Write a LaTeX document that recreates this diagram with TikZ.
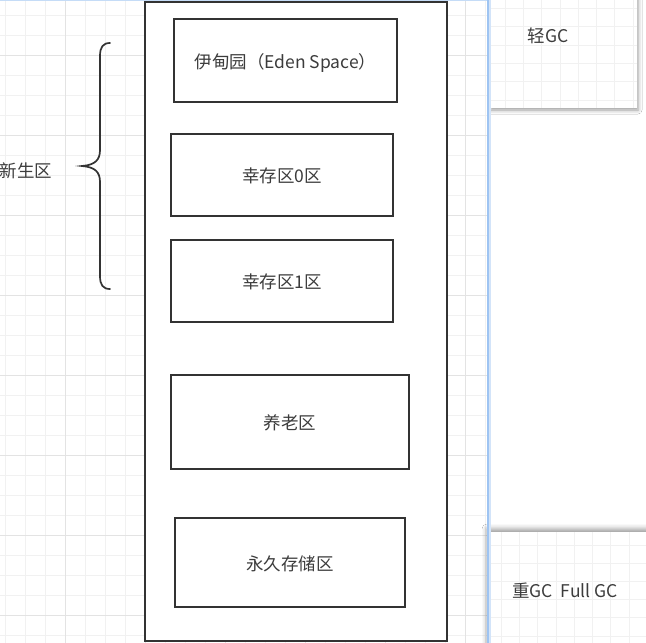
\documentclass[tikz,border=0pt]{standalone}
\usepackage{fontspec}
\setmainfont{Noto Sans CJK SC}
\usetikzlibrary{shadows.blur}
\definecolor{gridminor}{HTML}{F1F1F1}
\definecolor{gridmajor}{HTML}{E3E3E3}
\definecolor{ink}{HTML}{333333}
\definecolor{txt}{HTML}{3C3C3C}
\definecolor{edgeblue}{HTML}{9EC4F2}

\begin{document}
\begin{tikzpicture}[x=1pt, y=-1pt,
  region/.style={draw=ink, line width=2.2pt, fill=white, inner sep=0pt, text=txt,
                 text height=16pt, text depth=1pt,
                 font=\fontsize{17.5}{20}\selectfont},
  caption/.style={inner sep=0pt, text=txt, font=\fontsize{17.5}{20}\selectfont},
  minorline/.style={draw=gridminor, line width=0.8pt},
  majorline/.style={draw=gridmajor, line width=0.9pt},
  panel/.style={fill=white, draw=none}]

\useasboundingbox (0,0) rectangle (646,643);
\fill[white] (0,0) rectangle (646,643);

% canvas grid on the left part
\begin{scope}
  \clip (0,0) rectangle (487,643);
  \foreach \x in {5,25,...,485} \draw[minorline] (\x,0) -- (\x,643);
  \foreach \y in {15,35,...,635} \draw[minorline] (0,\y) -- (487,\y);
  \foreach \x in {65,145,...,465} \draw[majorline] (\x,0) -- (\x,643);
  \foreach \y in {55,135,...,615} \draw[majorline] (0,\y) -- (487,\y);
\end{scope}
\draw[edgeblue!60, line width=1.2pt] (0,0.6) -- (487,0.6);

% heap container and its regions
\node[region, minimum width=302pt, minimum height=639pt] (heap) at (296,321.5) {};
\node[region, minimum width=223pt, minimum height=83pt] (eden) at (285.5,60.5) {伊甸园（Eden Space）};
\node[region, minimum width=222pt, minimum height=82pt] (surv0) at (282,175) {幸存区0区};
\node[region, minimum width=222pt, minimum height=82pt] (surv1) at (282,281) {幸存区1区};
\node[region, minimum width=238pt, minimum height=94pt] (old) at (290,422) {养老区};
\node[region, minimum width=230pt, minimum height=89pt] (perm) at (290,562.5) {永久存储区};

% brace grouping the young generation
\draw[ink, line width=1.7pt, line cap=round]
  (110,43) .. controls (103,43) and (100,47) .. (100,56) -- (100,150)
  .. controls (100,160) and (95,165) .. (82,166)
  .. controls (95,167) and (100,172) .. (100,182) -- (100,276)
  .. controls (100,285) and (103,289) .. (110,289);
\node[caption] (young) at (26,171) {新生区};

% minor GC panel
\fill[panel, blur shadow={shadow xshift=1pt, shadow yshift=-2pt, shadow blur radius=4pt}]
  (490,-10) rectangle (637,108);
\begin{scope}
  \clip (490,0) rectangle (637,108);
  \foreach \x in {505,523.3,...,637} \draw[minorline] (\x,0) -- (\x,108);
  \foreach \y in {8.5,26.8,...,108} \draw[minorline] (490,\y) -- (637,\y);
\end{scope}
\node[caption] (minorgc) at (548,36) {轻GC};

% full GC panel
\fill[panel, blur shadow={shadow xshift=0pt, shadow yshift=3pt, shadow blur radius=5pt}]
  (487,532) rectangle (660,660);
\begin{scope}
  \clip (487,532) rectangle (646,643);
  \foreach \x in {501,519.3,...,646} \draw[minorline] (\x,532) -- (\x,643);
  \foreach \y in {545,563.2,...,643} \draw[minorline] (487,\y) -- (646,\y);
\end{scope}
\node[caption] (fullgc) at (565,591) {重GC\ \ Full GC};

% blue canvas edge
\draw[edgeblue!45, line width=2pt] (489.5,0) -- (489.5,643);
\draw[edgeblue, line width=2pt] (487.5,0) -- (487.5,643);
\end{tikzpicture}
\end{document}
